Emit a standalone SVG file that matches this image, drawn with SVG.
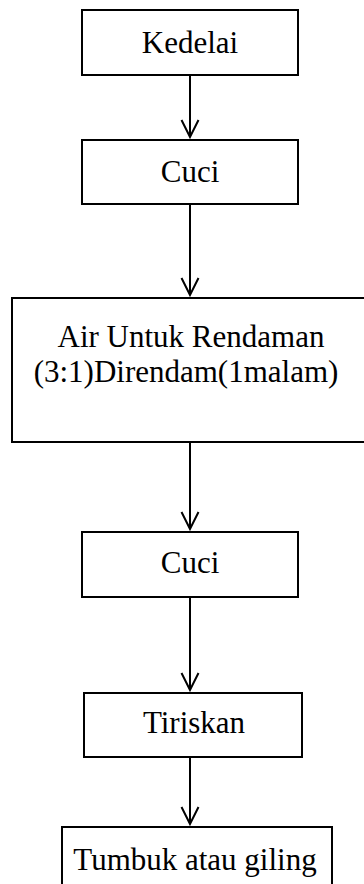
<svg xmlns="http://www.w3.org/2000/svg" width="364" height="884" viewBox="0 0 364 884">
<style>
.box{fill:#fff;stroke:#000;stroke-width:2}
.t{font-family:"Liberation Serif","Times New Roman",serif;font-size:31px;fill:#000;text-anchor:middle}
.c{stroke:#000;stroke-width:2;fill:none}
</style>
<defs>
<marker id="ah" viewBox="0 0 20 20" refX="18" refY="10" markerWidth="20" markerHeight="20" markerUnits="userSpaceOnUse" orient="auto">
<path d="M1 1.5 L18 10 L1 18.5" fill="none" stroke="#000" stroke-width="2"/>
</marker>
</defs>
<g id="n1"><rect class="box" x="82" y="10" width="216" height="65"/><text class="t" x="190" y="53">Kedelai</text></g>
<g id="n2"><rect class="box" x="82" y="140" width="216" height="64"/><text class="t" x="190" y="182">Cuci</text></g>
<g id="n3"><rect class="box" x="12" y="298" width="360" height="144"/><text class="t" x="191" y="347">Air Untuk Rendaman</text><text class="t" x="186" y="382">(3:1)Direndam(1malam)</text></g>
<g id="n4"><rect class="box" x="82" y="532" width="216" height="65"/><text class="t" x="190" y="573">Cuci</text></g>
<g id="n5"><rect class="box" x="84" y="693" width="218" height="64"/><text class="t" x="194" y="733">Tiriskan</text></g>
<g id="n6"><rect class="box" x="62" y="827" width="270" height="80"/><text class="t" x="195" y="870">Tumbuk atau giling</text></g>
<g id="connectors">
<line class="c" x1="190" y1="75" x2="190" y2="137" marker-end="url(#ah)"/>
<line class="c" x1="190" y1="204" x2="190" y2="295" marker-end="url(#ah)"/>
<line class="c" x1="190" y1="442" x2="190" y2="529" marker-end="url(#ah)"/>
<line class="c" x1="190" y1="597" x2="190" y2="690" marker-end="url(#ah)"/>
<line class="c" x1="190" y1="757" x2="190" y2="824" marker-end="url(#ah)"/>
</g>
</svg>
